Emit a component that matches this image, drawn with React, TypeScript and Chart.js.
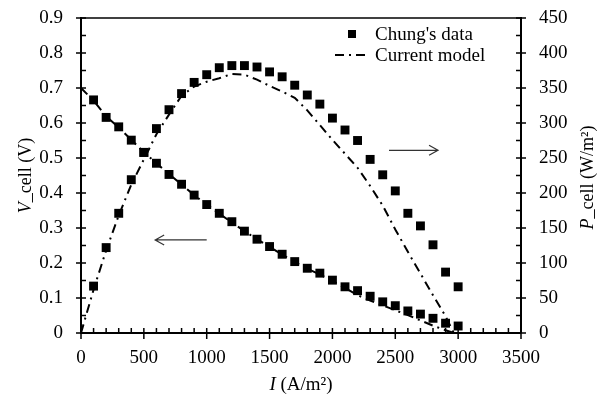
import React, { useEffect, useRef } from "react";
import { Chart, registerables } from "chart.js";

Chart.register(...registerables);

// ---- data ----
const currents = [100, 200, 300, 400, 500, 600, 700, 800, 900, 1000, 1100, 1200, 1300, 1400, 1500, 1600, 1700, 1800, 1900, 2000, 2100, 2200, 2300, 2400, 2500, 2600, 2700, 2800, 2900, 3000];
const chungVoltage = [0.666, 0.616, 0.589, 0.551, 0.516, 0.485, 0.453, 0.425, 0.394, 0.367, 0.342, 0.318, 0.291, 0.268, 0.247, 0.225, 0.204, 0.185, 0.171, 0.151, 0.132, 0.121, 0.105, 0.089, 0.078, 0.063, 0.054, 0.042, 0.028, 0.020];
const chungPower = [67, 122, 171, 219, 258, 292, 319, 342, 358, 369, 379, 382, 382, 380, 373, 366, 354, 340, 327, 307, 290, 275, 248, 226, 203, 171, 153, 126, 87, 66];

const modelCurrents = [0, 100, 200, 300, 400, 500, 600, 700, 800, 900, 1000, 1100, 1200, 1300, 1400, 1500, 1600, 1700, 1800, 1900, 2000, 2100, 2200, 2300, 2400, 2500, 2600, 2700, 2800, 2900, 2965];
const modelVoltage = [0.700, 0.664, 0.619, 0.587, 0.552, 0.517, 0.485, 0.454, 0.424, 0.394, 0.367, 0.341, 0.316, 0.291, 0.268, 0.246, 0.224, 0.203, 0.184, 0.167, 0.149, 0.129, 0.108, 0.093, 0.079, 0.065, 0.051, 0.036, 0.021, 0.008, 0];
const modelPower = [0, 62, 118, 168, 212, 248, 284, 312, 339, 352, 359, 364, 370, 369, 362, 353, 345, 336, 318, 297, 276, 256, 236, 210, 182, 148, 116, 85, 54, 24, 0];

const xTicks = [0, 500, 1000, 1500, 2000, 2500, 3000, 3500];
const vTicks = [0, 0.1, 0.2, 0.3, 0.4, 0.5, 0.6, 0.7, 0.8, 0.9];
const pTicks = [0, 50, 100, 150, 200, 250, 300, 350, 400, 450];

// arrows (data coordinates): [from current, to current], level
const voltageArrowI = [1000, 590];
const voltageArrowV = 0.266;
const powerArrowI = [2450, 2840];
const powerArrowP = 261;

const seriesLabels = ["Chung's data", "Current model"];
const xTitle = [{ t: "I", i: true }, { t: " (A/m²)", i: false }];
const vTitle = [{ t: "V", i: true }, { t: "_cell (V)", i: false }];
const pTitle = [{ t: "P", i: true }, { t: "_cell (W/m²)", i: false }];

const FAMILY = '"Liberation Serif", "Times New Roman", serif';
const FS = 19;
const DASH = [9, 5, 2, 5];

function drawMixed(ctx: CanvasRenderingContext2D, parts: { t: string; i: boolean }[], cx: number, cy: number, rotate: boolean, size: number) {
  ctx.save();
  ctx.translate(cx, cy);
  if (rotate) ctx.rotate(-Math.PI / 2);
  ctx.fillStyle = "#000";
  ctx.textBaseline = "middle";
  ctx.textAlign = "left";
  const widths = parts.map((p) => {
    ctx.font = `${p.i ? "italic " : ""}${size}px ${FAMILY}`;
    return ctx.measureText(p.t).width;
  });
  let x = -widths.reduce((a, b) => a + b, 0) / 2;
  parts.forEach((p, k) => {
    ctx.font = `${p.i ? "italic " : ""}${size}px ${FAMILY}`;
    ctx.fillText(p.t, x, 0);
    x += widths[k];
  });
  ctx.restore();
}

function arrow(ctx: CanvasRenderingContext2D, x0: number, x1: number, y: number) {
  const dir = Math.sign(x1 - x0);
  ctx.save();
  ctx.strokeStyle = "#333";
  ctx.lineWidth = 1.2;
  ctx.beginPath();
  ctx.moveTo(x0, y);
  ctx.lineTo(x1, y);
  ctx.moveTo(x1 - dir * 9, y - 5);
  ctx.lineTo(x1, y);
  ctx.lineTo(x1 - dir * 9, y + 5);
  ctx.stroke();
  ctx.restore();
}

const decor = {
  id: "decor",
  afterDraw(chart: any) {
    const ctx: CanvasRenderingContext2D = chart.ctx;
    const { left, right, top, bottom } = chart.chartArea;
    const xs = chart.scales.x;
    const yv = chart.scales.yV;
    const yp = chart.scales.yP;
    ctx.save();
    ctx.strokeStyle = "#000";
    // frame
    ctx.lineWidth = 1.5;
    ctx.beginPath();
    ctx.moveTo(left, top);
    ctx.lineTo(right, top);
    ctx.stroke();
    ctx.lineWidth = 2;
    ctx.beginPath();
    ctx.moveTo(left, top - 1);
    ctx.lineTo(left, bottom);
    ctx.lineTo(right, bottom);
    ctx.moveTo(right, top - 1);
    ctx.lineTo(right, bottom);
    ctx.stroke();
    // ticks
    ctx.lineWidth = 1.5;
    ctx.beginPath();
    xTicks.forEach((v, k) => {
      const px = xs.getPixelForValue(v);
      ctx.moveTo(px, bottom - 5);
      ctx.lineTo(px, bottom + 6);
      if (k < xTicks.length - 1) {
        const step = (xTicks[k + 1] - v) / 5;
        for (let m = 1; m < 5; m++) {
          const mx = xs.getPixelForValue(v + step * m);
          ctx.moveTo(mx, bottom - 5);
          ctx.lineTo(mx, bottom);
        }
      }
    });
    vTicks.forEach((v, k) => {
      const py = yv.getPixelForValue(v);
      ctx.moveTo(left - 5, py);
      ctx.lineTo(left + 5, py);
      if (k < vTicks.length - 1) {
        const my = yv.getPixelForValue((v + vTicks[k + 1]) / 2);
        ctx.moveTo(left, my);
        ctx.lineTo(left + 5, my);
      }
    });
    pTicks.forEach((v, k) => {
      const py = yp.getPixelForValue(v);
      ctx.moveTo(right - 5, py);
      ctx.lineTo(right + 5, py);
      if (k < pTicks.length - 1) {
        const my = yp.getPixelForValue((v + pTicks[k + 1]) / 2);
        ctx.moveTo(right - 5, my);
        ctx.lineTo(right, my);
      }
    });
    ctx.stroke();
    ctx.restore();

    // axis titles
    drawMixed(ctx, xTitle, (left + right) / 2, bottom + 52, false, FS);
    drawMixed(ctx, vTitle, 26, (top + bottom) / 2, true, 18);
    drawMixed(ctx, pTitle, 588, (top + bottom) / 2 + 2, true, 18);

    // legend
    const ds = chart.data.datasets;
    ctx.save();
    ctx.fillStyle = "#000";
    const sqX = right - 169;
    const sqY = top + 16;
    ctx.fillRect(sqX - 4, sqY - 4, 8, 8);
    ctx.strokeStyle = "#000";
    ctx.lineWidth = 2;
    ctx.setLineDash(DASH);
    ctx.beginPath();
    ctx.moveTo(right - 186, top + 37);
    ctx.lineTo(right - 154, top + 37);
    ctx.stroke();
    ctx.setLineDash([]);
    ctx.font = `${FS}px ${FAMILY}`;
    ctx.textBaseline = "middle";
    ctx.textAlign = "left";
    ctx.fillText(ds[0].label, right - 146, sqY + 1);
    ctx.fillText(ds[2].label, right - 146, top + 38);
    ctx.restore();

    // arrows
    arrow(ctx, xs.getPixelForValue(voltageArrowI[0]), xs.getPixelForValue(voltageArrowI[1]), yv.getPixelForValue(voltageArrowV));
    arrow(ctx, xs.getPixelForValue(powerArrowI[0]), xs.getPixelForValue(powerArrowI[1]), yp.getPixelForValue(powerArrowP));
  },
};

export default function App() {
  const ref = useRef<HTMLCanvasElement>(null);
  useEffect(() => {
    document.body.style.margin = "0";
    const canvas = ref.current!;
    const pts = (xs: number[], ys: number[]) => xs.map((x, k) => ({ x, y: ys[k] }));
    const tickFont = { family: FAMILY, size: FS };
    const fitY = (w: number) => (s: any) => {
      s.width = w;
      s.paddingTop = 0;
      s.paddingBottom = 0;
    };
    const chart = new Chart(canvas, {
      type: "scatter",
      data: {
        datasets: [
          {
            label: seriesLabels[0],
            data: pts(currents, chungVoltage),
            yAxisID: "yV",
            pointStyle: "rect",
            pointRadius: 6.3,
            backgroundColor: "#000",
            borderColor: "#000",
            borderWidth: 0,
            order: 0,
          },
          {
            label: seriesLabels[0] + " (P)",
            data: pts(currents, chungPower),
            yAxisID: "yP",
            pointStyle: "rect",
            pointRadius: 6.3,
            backgroundColor: "#000",
            borderColor: "#000",
            borderWidth: 0,
            order: 0,
          },
          {
            label: seriesLabels[1],
            data: pts(modelCurrents, modelVoltage),
            yAxisID: "yV",
            showLine: true,
            pointRadius: 0,
            borderColor: "#000",
            borderWidth: 2,
            borderDash: DASH,
            order: 1,
          },
          {
            label: seriesLabels[1] + " (P)",
            data: pts(modelCurrents, modelPower),
            yAxisID: "yP",
            showLine: true,
            pointRadius: 0,
            borderColor: "#000",
            borderWidth: 2,
            borderDash: DASH,
            order: 1,
          },
        ],
      },
      options: {
        responsive: true,
        maintainAspectRatio: false,
        animation: false,
        events: [],
        layout: { padding: { top: 18, left: 0, right: 0, bottom: 0 } },
        plugins: { legend: { display: false }, tooltip: { enabled: false } },
        scales: {
          x: {
            type: "linear",
            position: "bottom",
            min: 0,
            max: 3500,
            afterBuildTicks: (s: any) => {
              s.ticks = xTicks.map((value) => ({ value }));
            },
            afterFit: (s: any) => {
              s.height = 61;
              s.paddingLeft = 0;
              s.paddingRight = 0;
            },
            grid: { display: false, drawTicks: false },
            border: { display: false },
            ticks: { padding: 14, color: "#000", font: tickFont, maxRotation: 0, autoSkip: false, callback: (v: any) => String(v) },
          },
          yV: {
            type: "linear",
            position: "left",
            min: 0,
            max: 0.9,
            afterBuildTicks: (s: any) => {
              s.ticks = vTicks.map((value) => ({ value }));
            },
            afterFit: fitY(81),
            grid: { display: false, drawTicks: false },
            border: { display: false },
            ticks: { padding: 18, color: "#000", font: tickFont, autoSkip: false, callback: (v: any) => (v === 0 ? "0" : Number(v).toFixed(1)) },
          },
          yP: {
            type: "linear",
            position: "right",
            min: 0,
            max: 450,
            afterBuildTicks: (s: any) => {
              s.ticks = pTicks.map((value) => ({ value }));
            },
            afterFit: fitY(84),
            grid: { display: false, drawTicks: false },
            border: { display: false },
            ticks: { padding: 18, color: "#000", font: tickFont, autoSkip: false, callback: (v: any) => String(v) },
          },
        },
      },
      plugins: [decor],
    });
    return () => chart.destroy();
  }, []);
  return (
    <div style={{ position: "absolute", left: 0, top: 0, width: 605, height: 394 }}>
      <canvas ref={ref} />
    </div>
  );
}
